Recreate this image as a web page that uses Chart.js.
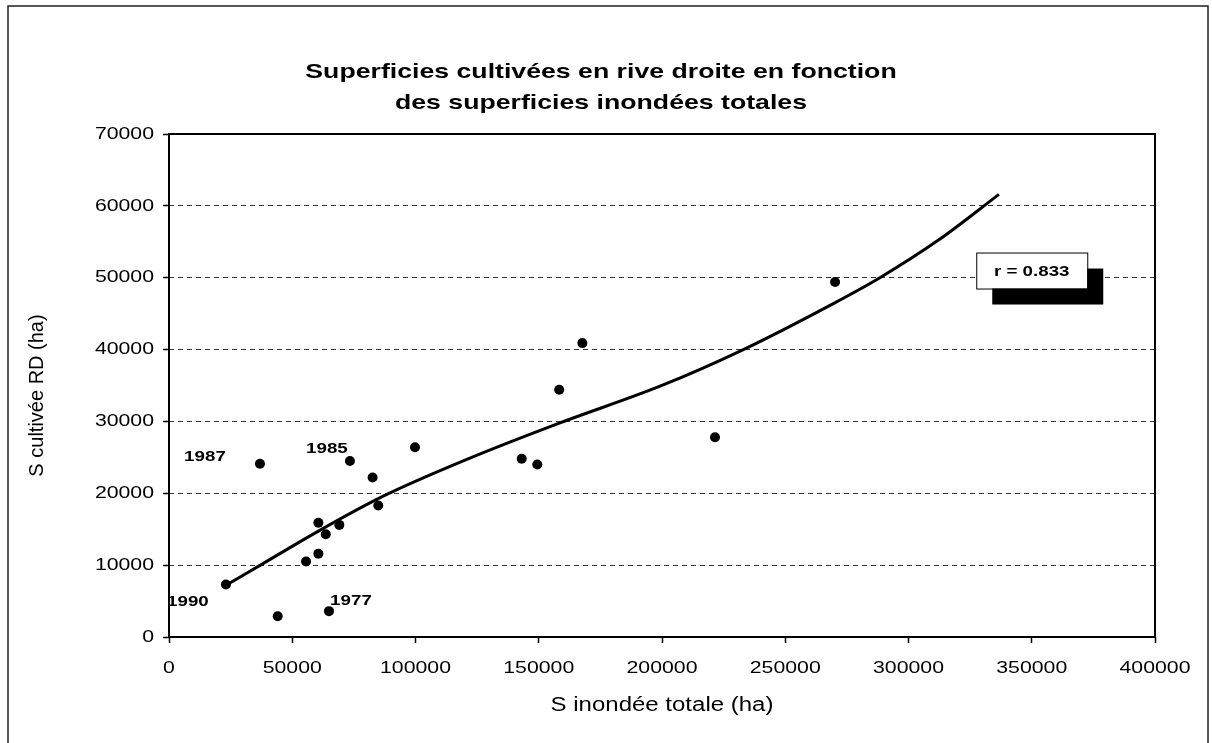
<!DOCTYPE html>
<html>
<head>
<meta charset="utf-8">
<script src="https://cdn.jsdelivr.net/npm/chart.js@4/dist/chart.umd.min.js"></script>
<style>
  html, body { margin: 0; padding: 0; background: #fff; }
  #wrap { width: 1212px; height: 743px; }
</style>
</head>
<body>
<div id="wrap"><canvas id="rdChart"></canvas></div>
<script>
// Surface inondée totale (ha) / surface cultivée en rive droite (ha)
const floodedArea = [23100, 36900, 44100, 55600, 60600, 60600, 63600, 64900, 69100, 73400,
                     82600, 84900, 99800, 143100, 149400, 158300, 167700, 221500, 270200];
const cultivatedArea = [7300, 24100, 2900, 10500, 15900, 11600, 14300, 3600, 15600, 24500,
                        22200, 18300, 26400, 24800, 24000, 34400, 40900, 27800, 49400];
const yearLabels = ["1990", "1987", "", "", "", "", "", "1977", "", "1985",
                    "", "", "", "", "", "", "", "", ""];

// courbe de tendance (polynomiale)
const trendX = [23100, 38300, 59900, 86900, 122100, 158600, 199200, 233000, 269500, 288400, 312000, 336700];
const trendY = [7200, 10250, 14600, 19600, 24900, 29800, 34900, 40000, 46400, 50000, 55200, 61600];

const xTicks = [0, 400000, 50000];   // min, max, pas
const yTicks = [0, 70000, 10000];
const corrLabel = "r = 0.833";
const titleLines = ["Superficies cultivées en rive droite en fonction", "des superficies inondées totales"];
const xTitle = "S inondée totale (ha)";
const yTitle = "S cultivée RD (ha)";

const FONT = "'Liberation Sans', Arial, sans-serif";
const SX = 1.25; // texte un peu élargi

function wideText(ctx, txt, x, y, font, align, sx) {
    ctx.save();
    ctx.font = font;
    ctx.textAlign = align;
    ctx.textBaseline = "middle";
    ctx.fillStyle = "#000";
    ctx.translate(x, y);
    ctx.scale(sx, 1);
    ctx.fillText(txt, 0, 0);
    ctx.restore();
}

const labelOffsets = { "1990": [-38, 17], "1987": [-55, -7], "1985": [-23, -12], "1977": [22, -10] };

const decorPlugin = {
    id: "decor",
    afterDraw(chart) {
        const { ctx, chartArea: a, scales } = chart;
        const xs = scales.x, ys = scales.y;

        // cadre de la zone de tracé
        ctx.save();
        ctx.strokeStyle = "#000";
        ctx.lineWidth = 2;
        ctx.strokeRect(a.left, a.top, a.right - a.left, a.bottom - a.top);
        // cadre extérieur
        ctx.lineWidth = 1.5;
        ctx.strokeStyle = "#222";
        ctx.strokeRect(8, 6, 1200, 760);
        ctx.restore();

        // graduations
        ys.ticks.forEach((t) => {
            wideText(ctx, String(t.value), 154, ys.getPixelForValue(t.value), "17px " + FONT, "right", SX);
        });
        xs.ticks.forEach((t) => {
            wideText(ctx, String(t.value), xs.getPixelForValue(t.value), 668, "17px " + FONT, "center", SX);
        });

        // titres
        wideText(ctx, titleLines[0], 601, 72, "bold 21px " + FONT, "center", 1.27);
        wideText(ctx, titleLines[1], 601, 103, "bold 21px " + FONT, "center", 1.27);
        wideText(ctx, xTitle, (a.left + a.right) / 2, 705, "20px " + FONT, "center", 1.2);
        ctx.save();
        ctx.translate(37, (a.top + a.bottom) / 2 + 10);
        ctx.rotate(-Math.PI / 2);
        wideText(ctx, yTitle, 0, 0, "20px " + FONT, "center", 1);
        ctx.restore();

        // années
        yearLabels.forEach((lab, i) => {
            if (!lab) return;
            const off = labelOffsets[lab] || [0, -12];
            const px = xs.getPixelForValue(floodedArea[i]) + off[0];
            const py = ys.getPixelForValue(cultivatedArea[i]) + off[1];
            wideText(ctx, lab, px, py, "bold 15px " + FONT, "center", SX);
        });

        // encadré du coefficient de corrélation
        const cx = xs.getPixelForValue(350000);
        const cy = ys.getPixelForValue(51000);
        const w = 111, h = 36;
        ctx.save();
        ctx.fillStyle = "#000";
        ctx.fillRect(cx - w / 2 + 16, cy - h / 2 + 16, w, h);
        ctx.fillStyle = "#fff";
        ctx.fillRect(cx - w / 2, cy - h / 2, w, h);
        ctx.strokeStyle = "#000";
        ctx.lineWidth = 1;
        ctx.strokeRect(cx - w / 2 + 0.5, cy - h / 2 + 0.5, w, h);
        ctx.restore();
        wideText(ctx, corrLabel, cx, cy + 1, "bold 15px " + FONT, "center", SX);
    },
};

const points = floodedArea.map((x, i) => ({ x: x, y: cultivatedArea[i] }));
const trend = trendX.map((x, i) => ({ x: x, y: trendY[i] }));

new Chart(document.getElementById("rdChart").getContext("2d"), {
    type: "scatter",
    data: {
        datasets: [
            {
                label: "S cultivée RD",
                data: points,
                backgroundColor: "#000",
                borderColor: "#000",
                pointRadius: 5,
                pointBorderWidth: 0,
                showLine: false,
            },
            {
                label: "tendance",
                data: trend,
                showLine: true,
                borderColor: "#000",
                borderWidth: 3,
                pointRadius: 0,
                cubicInterpolationMode: "monotone",
                fill: false,
            },
        ],
    },
    options: {
        responsive: true,
        maintainAspectRatio: false,
        animation: false,
        layout: { padding: { top: 134, right: 57, left: 0, bottom: 0 } },
        plugins: {
            legend: { display: false },
            tooltip: { enabled: false },
        },
        scales: {
            x: {
                type: "linear",
                min: xTicks[0],
                max: xTicks[1],
                ticks: { stepSize: xTicks[2], display: false },
                grid: { drawOnChartArea: false, drawTicks: true, tickLength: 6, tickColor: "#000", tickWidth: 1.5 },
                border: { display: false },
                afterFit: (scale) => { scale.height = 106; },
            },
            y: {
                min: yTicks[0],
                max: yTicks[1],
                ticks: { stepSize: yTicks[2], display: false },
                grid: {
                    color: (c) => (c.tick && (c.tick.value === yTicks[0] || c.tick.value === yTicks[1]) ? "rgba(0,0,0,0)" : "#333"),
                    lineWidth: 1,
                    drawTicks: true,
                    tickLength: 6,
                    tickColor: "#000",
                    tickWidth: 1.5,
                    tickBorderDash: [],
                },
                border: { display: false, dash: [5, 4] },
                afterFit: (scale) => { scale.width = 169; },
            },
        },
    },
    plugins: [decorPlugin],
});
</script>
</body>
</html>
